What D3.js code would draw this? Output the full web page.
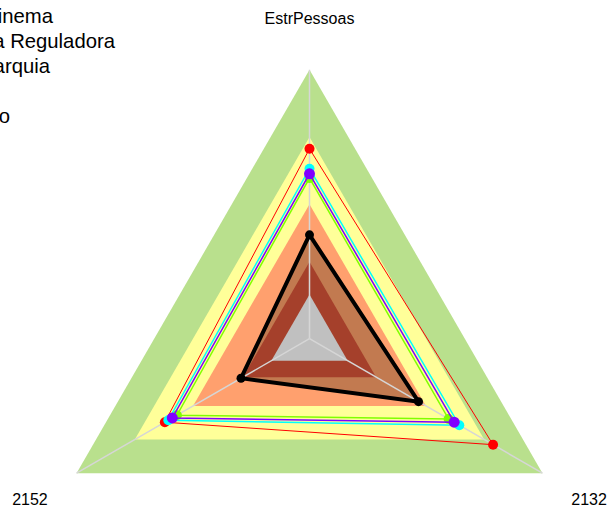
<!DOCTYPE html>
<html><head><meta charset="utf-8">
<script src="https://cdn.jsdelivr.net/npm/d3@7"></script>
<style>body{margin:0;background:#fff;overflow:hidden}svg{display:block}</style>
</head><body><svg id="c" width="611" height="512"></svg>
<script>
// ---- data ----
const axes = ["EstrPessoas", "2132", "2152"];
const bandNames = ["Excelente", "Bom", "Regular", "Fraco", "Crítico"];
const bandOuter = [100, 100, 100];
const bandBom = [75, 75, 75];
const bandRegular = [50, 50, 50];
const bandFraco = [28.6, 28.6, 28.6];
const bandCritico = [16.4, 16.4, 16.4];
const seriesNames = ["Agência Nacional do Cinema", "Agência Reguladora", "Autarquia", "Ministério", "Fundação"];
const serieCinema = [70.6, 78.8, 62.1];
const serieReguladora = [63.2, 64.3, 60.6];
const serieAutarquia = [61.3, 62.1, 58.9];
const serieMinisterio = [59.7, 59.7, 56.9];
const serieFundacao = [38.6, 46.8, 29.4];

// ---- layout ----
const svg = d3.select("#c");
const cx = 309.5, cy = 338.7, R = 269;
const g = svg.append("g").attr("transform", `translate(${cx},${cy})`);
const r = d3.scaleLinear().domain([0, 100]).range([0, R]);
const ang = d3.scalePoint().domain(axes).range([0, 4 * Math.PI / 3]);
const radial = d3.lineRadial().angle((d, i) => ang(axes[i])).radius(d => r(d)).curve(d3.curveLinearClosed);
const pt = (v, i) => [Math.sin(ang(axes[i])) * r(v), -Math.cos(ang(axes[i])) * r(v)];

// bands
const bands = [
  {v: bandOuter, c: "#B9E08D"},
  {v: bandBom, c: "#FFFF99"},
  {v: bandRegular, c: "#FFA06E"},
  {v: serieFundacao, c: "#C27A50"},
  {v: bandFraco, c: "#A5402B"},
  {v: bandCritico, c: "#C0C0C0"}
];
g.selectAll("path.band").data(bands).join("path").attr("class", "band")
  .attr("d", d => radial(d.v)).attr("fill", d => d.c);

// axis spokes
g.selectAll("line.spoke").data(axes).join("line").attr("class", "spoke")
  .attr("x1", 0).attr("y1", 0)
  .attr("x2", d => Math.sin(ang(d)) * R).attr("y2", d => -Math.cos(ang(d)) * R)
  .attr("stroke", "#D6D6D6").attr("stroke-width", 1.5);

// axis labels
g.selectAll("text.axl").data(axes).join("text").attr("class", "axl")
  .attr("x", d => Math.sin(ang(d)) * R * 1.2)
  .attr("y", d => -Math.cos(ang(d)) * R * 1.2)
  .attr("dy", (d, i) => i === 0 ? "0.5em" : "0.3em")
  .attr("text-anchor", "middle")
  .attr("font-family", "Liberation Sans, Arial, sans-serif").attr("font-size", 16)
  .attr("fill", "#000").text(d => d);

// series
const series = [
  {name: seriesNames[0], v: serieCinema, c: "#FF0000", w: 1, rr: 5},
  {name: seriesNames[3], v: serieMinisterio, c: "#80FF00", w: 1.5, rr: 5},
  {name: seriesNames[1], v: serieReguladora, c: "#00FFFF", w: 1.5, rr: 5},
  {name: seriesNames[2], v: serieAutarquia, c: "#8000FF", w: 1.5, rr: 5.5},
  {name: seriesNames[4], v: serieFundacao, c: "#000000", w: 4, rr: 4.5}
];
series.forEach(s => {
  g.append("path").attr("d", radial(s.v)).attr("fill", "none")
    .attr("stroke", s.c).attr("stroke-width", s.w).attr("stroke-linejoin", "miter");
  g.selectAll(null).data(s.v).join("circle")
    .attr("cx", (d, i) => pt(d, i)[0]).attr("cy", (d, i) => pt(d, i)[1])
    .attr("r", s.rr).attr("fill", s.c);
});

// legend (clipped at left edge)
const legendOrder = [0, 1, 2, 3, 4];
const legColors = ["#FF0000", "#00FFFF", "#8000FF", "#80FF00", "#000000"];
const legEnds = [53, 115, 50, -4, 10];
const lg = svg.append("g");
legendOrder.forEach((k, j) => {
  const y = 23 + j * 25;
  lg.append("text").attr("x", legEnds[j]).attr("y", y).attr("text-anchor", "end")
    .attr("font-family", "Liberation Sans, Arial, sans-serif").attr("font-size", 20.3)
    .attr("fill", "#000").text(seriesNames[k]);
});
</script></body></html>
